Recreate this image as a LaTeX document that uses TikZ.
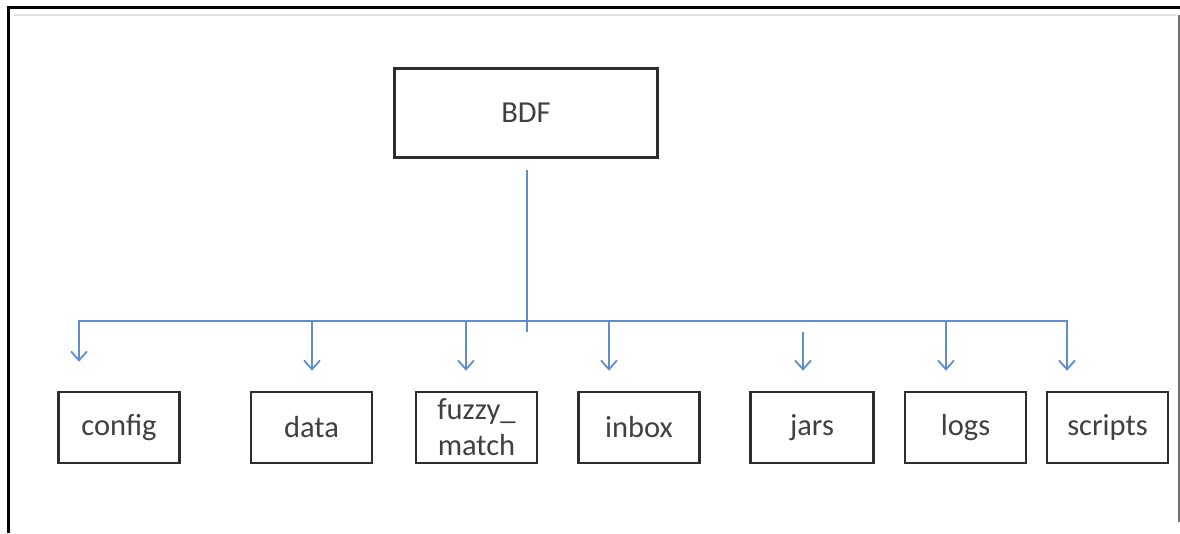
\documentclass[tikz,border=0pt]{standalone}
\usepackage{fontspec}
\setmainfont{Carlito}
\usetikzlibrary{arrows.meta}

\definecolor{linkblue}{RGB}{96,142,204}
\definecolor{boxtext}{RGB}{64,64,64}
\definecolor{boxline}{RGB}{45,45,45}

\tikzset{
  dirbox/.style={draw=boxline,line width=2.6pt,rectangle,text=boxtext,
    minimum width=121pt,minimum height=71pt,inner sep=0pt,align=center,
    font=\fontsize{30.5}{36}\selectfont},
  link/.style={draw=linkblue,line width=1.8pt},
  linkarrow/.style={link,-{Straight Barb[length=9pt,width=16pt,line width=1.8pt]}},
  linkboth/.style={link,{Straight Barb[length=9pt,width=16pt,line width=1.8pt]}-{Straight Barb[length=9pt,width=16pt,line width=1.8pt]}}
}

\begin{document}
\begin{tikzpicture}[x=1pt,y=-1pt]

      \useasboundingbox (0,0) rectangle (1180,533);

      % page frame
      \draw[line width=3pt] (8.5,533) -- (8.5,7.5) -- (1180,7.5);
      \draw[black!12,line width=2pt] (14,15) -- (1177,15);
      \draw[black!55,line width=2pt] (1178.5,15) -- (1178.5,522);

      \node[dirbox,minimum width=263pt,minimum height=89pt] (bdf) at (526,113) {BDF};

      \node[dirbox] (config)  at (119,427.5)    {config};
      \node[dirbox] (data)    at (311.5,427.5)  {data};
      \node[dirbox] (fuzzy)   at (476.5,427.5)  {fuzzy\_\\match};
      \node[dirbox] (inbox)   at (639,427.5)    {inbox};
      \node[dirbox,minimum width=123pt] (jars) at (812,427.5) {jars};
      \node[dirbox] (logs)    at (965.5,427.5)  {logs};
      \node[dirbox] (scripts) at (1107.5,427.5) {scripts};

      % bus points
      \coordinate (trunk) at (527,332);
      \coordinate (left)  at (79,321);
      \coordinate (right) at (1067,321);

      \draw[link] ([yshift=-11pt]bdf.south -| trunk) -- (trunk);
      \draw[linkboth] ([yshift=29pt]config.north -| left) -- (left) -- (right) -- ([yshift=20pt]scripts.north -| right);
      \draw[linkarrow] (312,321) -- ([yshift=20pt]data.north -| 312,0);
      \draw[linkarrow] (466,321) -- ([yshift=20pt]fuzzy.north -| 466,0);
      \draw[linkarrow] (609,321) -- ([yshift=20pt]inbox.north -| 609,0);
      \draw[linkarrow] (803,332) -- ([yshift=20pt]jars.north -| 803,0);
      \draw[linkarrow] (946,321) -- ([yshift=20pt]logs.north -| 946,0);

    \end{tikzpicture}
\end{document}
